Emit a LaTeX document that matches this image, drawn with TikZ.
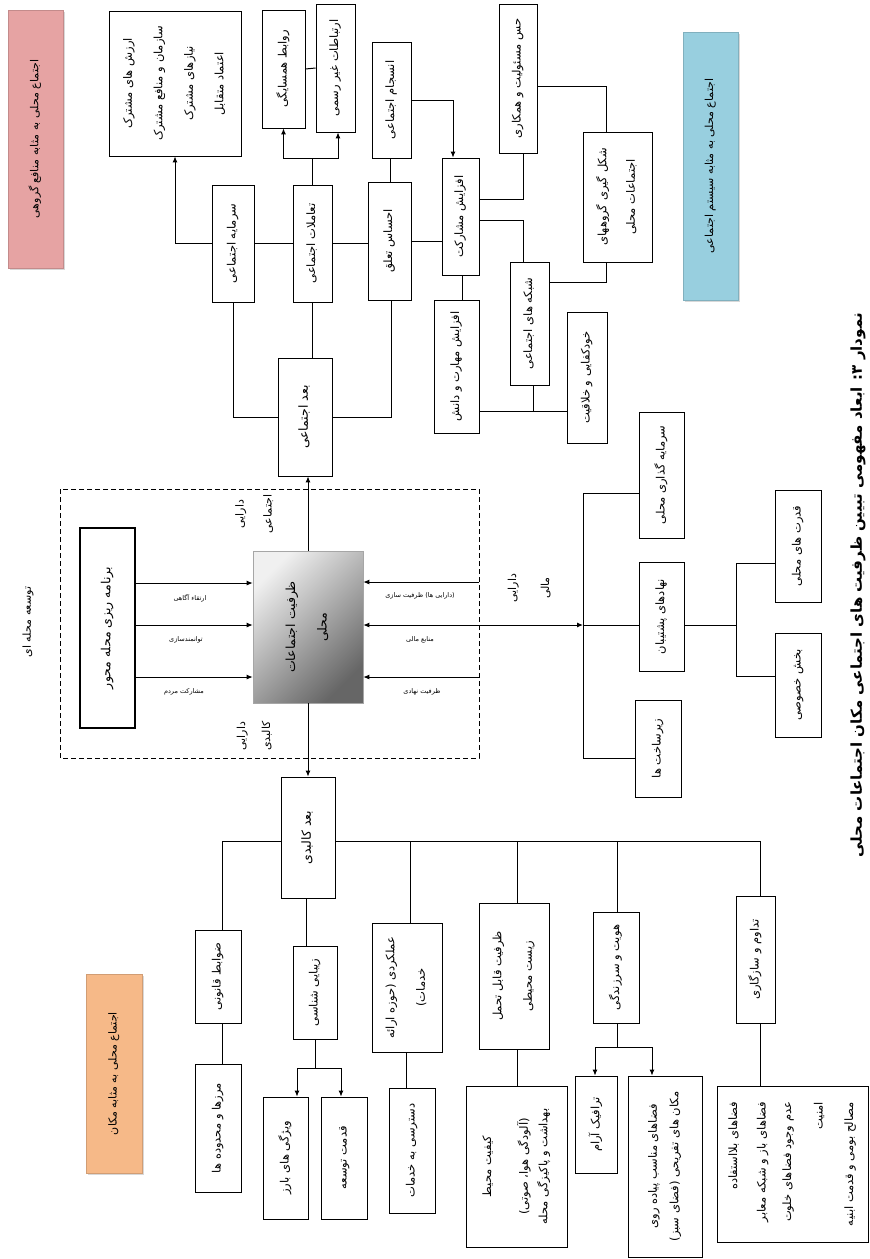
\documentclass[tikz,border=0pt]{standalone}
\usepackage{fontspec}
\usepackage{graphicx}
\usetikzlibrary{arrows.meta,calc,shadows}
\TeXXeTstate=1
\newfontfamily\arabicfont[Script=Arabic]{DejaVu Sans}
\newcommand{\fa}[1]{{\arabicfont\beginR #1\endR}}
\newcommand{\vt}[2][c]{\rotatebox{90}{\begin{tabular}{@{}#1@{}}#2\end{tabular}}}
\definecolor{pinkD}{HTML}{E6A3A3}
\definecolor{pinkL}{HTML}{F8D6D6}
\definecolor{blueD}{HTML}{98CFDF}
\definecolor{blueL}{HTML}{D6EDF4}
\definecolor{orD}{HTML}{F6B988}
\definecolor{orL}{HTML}{FDDFC6}
\begin{document}
\begin{tikzpicture}[x=1pt,y=-1pt,
  bx/.style 2 args={draw, line width=0.8pt, fill=white, minimum width=#1pt, minimum height=#2pt, inner sep=0pt, font=\fontsize{11.5}{13.5}\selectfont},
  big/.style={font=\fontsize{12.5}{14.5}\selectfont},
  ln/.style={line width=1pt},
  arr/.style={ln, -{Latex[length=6pt,width=5pt]}},
  arrb/.style={ln, {Latex[length=6pt,width=5pt]}-{Latex[length=6pt,width=5pt]}},
  band/.style 2 args={draw=#1!85!black, line width=0.6pt, left color=#1, middle color=#2, right color=#1, inner sep=0pt, drop shadow={shadow xshift=2pt, shadow yshift=-2pt, opacity=0.3}, font=\fontsize{11}{13}\selectfont},
  lbl/.style={inner sep=1pt, font=\fontsize{11}{13}\selectfont},
  sml/.style={inner sep=0.5pt, font=\fontsize{6.5}{7.5}\selectfont},
  dbox/.style={line width=0.9pt, dash pattern=on 5pt off 3pt}
]
\useasboundingbox (0,0) rectangle (870,1259);
\fill[white] (0,0) rectangle (870,1259);

% ---------- coloured theme bands ----------
\node[band={pinkD}{pinkL}, minimum width=55pt, minimum height=258pt] (T1) at (35.5,139) {\vt{\fa{اجتماع محلی به مثابه منافع گروهی}}};
\node[band={blueD}{blueL}, minimum width=55pt, minimum height=268pt] (T2) at (710.5,166) {\vt{\fa{اجتماع محلی به مثابه سیستم اجتماعی}}};
\node[band={orD}{orL}, minimum width=56pt, minimum height=199pt] (T3) at (114,1073.5) {\vt{\fa{اجتماع محلی به مثابه مکان}}};

% ---------- social dimension ----------
\node[bx={132}{145}] (A1) at (175,83.5) {\vt{\fa{ارزش های مشترک}\\[17pt]\fa{سازمان و منافع مشترک}\\[17pt]\fa{نیازهای مشترک}\\[17pt]\fa{اعتماد متقابل}}};
\node[bx={42}{117}] (A2) at (233,243.5) {\vt{\fa{سرمایه اجتماعی}}};
\node[bx={43}{118}] (A3) at (283.5,69) {\vt{\fa{روابط همسایگی}}};
\node[bx={39}{128}] (A4) at (335.5,68) {\vt{\fa{ارتباطات غیر رسمی}}};
\node[bx={39}{117}] (A5) at (312.5,243.5) {\vt{\fa{تعاملات اجتماعی}}};
\node[bx={39}{116}] (A6) at (391.5,100) {\vt{\fa{انسجام اجتماعی}}};
\node[bx={43}{118}] (A7) at (389.5,241) {\vt{\fa{احساس تعلق}}};
\node[bx={37}{117}] (A8) at (460.5,216.5) {\vt{\fa{افزایش مشارکت}}};
\node[bx={38}{149}] (A9) at (518,78.5) {\vt{\fa{حس مسئولیت و همکاری}}};
\node[bx={39}{123}] (A10) at (529.5,323.5) {\vt{\fa{شبکه های اجتماعی}}};
\node[bx={45}{133}] (A11) at (456.5,366.5) {\vt{\fa{افزایش مهارت و دانش}}};
\node[bx={40}{131}] (A12) at (587,377.5) {\vt{\fa{خودکفایی و خلاقیت}}};
\node[bx={69}{130}] (A13) at (617.5,197) {\vt{\fa{شکل گیری گروههای}\\[15pt]\fa{اجتماعات محلی}}};
\node[bx={54}{118}, big] (B1) at (305,417) {\vt{\fa{بعد اجتماعی}}};

\coordinate (j1) at (312.5,158);
\coordinate (j2) at (533,411);
\draw[arr] (A2.west) -| (A1.south);
\draw[ln] (A2.east) -- (A5.west);
\draw[ln] (A5.east) -- (A5.east -| A7.west);
\draw[ln] (A7.east) -- (A7.east -| A8.west);
\draw[ln] (A2.south) |- (B1.west);
\draw[ln] (A5.south) -- (A5.south |- B1.north);
\draw[ln] (B1.east) -| ([xshift=1.5pt]A7.south);
\draw[ln] (A5.north) -- (j1);
\draw[arr] (j1) -| (A3.south);
\draw[arr] (j1) -| ([xshift=2.5pt]A4.south);
\draw[ln] (A3.east) -- (A4.west);
\draw[ln] ([xshift=1pt]A7.north) -- ([xshift=1pt]A7.north |- A6.south);
\draw[arr] (A6.east) -| ([xshift=-7.5pt]A8.north);
\draw[ln] ([yshift=17.5pt]A8.east) -| ([xshift=5pt]A9.south);
\draw[ln] ([yshift=-3.5pt]A8.east) -| ([xshift=-6.5pt]A10.north);
\draw[ln] ([xshift=1.5pt]A8.south) -- ([xshift=1.5pt]A8.south |- A11.north);
\draw[ln] ([xshift=3.5pt]A10.south) -- (j2);
\draw[ln] (A11.east |- j2) -- (A12.west |- j2);
\draw[ln] ([yshift=-7.5pt]A9.east) -| ([xshift=-11.5pt]A13.north);
\draw[ln] ([xshift=-11.5pt]A13.south) |- ([yshift=41.5pt]A10.east);

% ---------- central part ----------
\draw[dbox] (60,489) rectangle (479,758);
\node[lbl, rotate=90] (dev) at (28,622) {\fa{توسعه محله ای}};
\node[bx={55}{200}, line width=2pt, big] (P) at (107.5,628) {\vt{\fa{برنامه ریزی محله محور}}};
\node[draw=gray!70, line width=0.6pt, minimum width=110pt, minimum height=152pt, inner sep=0pt,
      top color=gray!12, bottom color=gray!80!black, shading angle=45, big] (C) at (308,627) {\vt{\fa{ظرفیت اجتماعات}\\[17pt]\fa{محلی}}};

\coordinate (pa1) at ([yshift=45pt]P.east);
\coordinate (pa2) at ([yshift=3pt]P.east);
\coordinate (pa3) at ([yshift=-49pt]P.east);
\draw[arr] (pa1) -- (pa1 -| C.west);
\draw[arr] (pa2) -- (pa2 -| C.west);
\draw[arr] (pa3) -- (pa3 -| C.west);
\node[sml] (l1) at (190,598) {\fa{ارتقاء آگاهی}};
\node[sml] (l2) at (186,640) {\fa{توانمندسازی}};
\node[sml] (l3) at (184,692) {\fa{مشارکت مردم}};

\coordinate (r1) at (479,582);
\coordinate (r3) at (479,677);
\coordinate (F) at (583,625);
\draw[arr] (r1) -- (r1 -| C.east);
\draw[arr] (r3) -- (r3 -| C.east);
\draw[arrb] (C.east |- F) -- (F);
\node[sml] (l4) at (420,596) {\fa{(دارایی ها) ظرفیت سازی}};
\node[sml] (l5) at (420,640) {\fa{منابع مالی}};
\node[sml] (l6) at (422,692) {\fa{ظرفیت نهادی}};

\node[lbl, fill=white, inner sep=3pt] (D1) at (255,514) {\vt{\fa{دارایی}\\[15pt]\fa{اجتماعی}}};
\node[lbl, fill=white, inner sep=3pt] (D2) at (255,736) {\vt{\fa{دارایی}\\[12pt]\fa{کالبدی}}};
\node[lbl, fill=white, inner sep=1pt] (D3) at (530,588) {\vt{\fa{دارایی}\\[20pt]\fa{مالی}}};

\draw[arr] (C.north) -- (C.north |- B1.south);

% ---------- financial ----------
\node[bx={45}{126}] (S1) at (661.5,475) {\vt{\fa{سرمایه گذاری محلی}}};
\node[bx={45}{109}] (S2) at (661.5,616.5) {\vt{\fa{نهادهای پشتیبان}}};
\node[bx={46}{97}] (S3) at (658,748.5) {\vt{\fa{زیرساخت ها}}};
\node[bx={46}{112}] (S4) at (798,546) {\vt{\fa{قدرت های محلی}}};
\node[bx={46}{104}] (S5) at (798,685) {\vt{\fa{بخش خصوصی}}};
\coordinate (fb1) at (583,493);
\coordinate (fb3) at (583,758);
\coordinate (j3) at (736,563);
\coordinate (j4) at (736,676);
\draw[ln] (fb1) -- (fb3);
\draw[ln] (fb1) -- (fb1 -| S1.west);
\draw[ln] (F) -- (F -| S2.west);
\draw[ln] (fb3) -- (fb3 -| S3.west);
\draw[ln] (S2.east |- F) -- (F -| j3);
\draw[ln] (j3) -- (j4);
\draw[ln] (j3) -- (j3 -| S4.west);
\draw[ln] (j4) -- (j4 -| S5.west);

% ---------- physical dimension ----------
\node[bx={54}{121}, big] (K) at (308,837.5) {\vt{\fa{بعد کالبدی}}};
\draw[arr] (C.south) -- (C.south |- K.north);
\node[bx={46}{93}] (Q1) at (218,976.5) {\vt{\fa{ضوابط قانونی}}};
\node[bx={44}{93}] (Q2) at (315,992.5) {\vt{\fa{زیبایی شناسی}}};
\node[bx={70}{129}] (Q3) at (407,987.5) {\vt{\fa{عملکردی (حوزه ارائه}\\[17pt]\fa{خدمات)}}};
\node[bx={70}{146}] (Q4) at (514,976) {\vt{\fa{ظرفیت قابل تحمل}\\[17pt]\fa{زیست محیطی}}};
\node[bx={46}{111}] (Q5) at (616,967.5) {\vt{\fa{هویت و سرزندگی}}};
\node[bx={39}{127}] (Q6) at (755.5,959.5) {\vt{\fa{تداوم و سازگاری}}};
\node[bx={46}{128}] (R1) at (218,1128) {\vt{\fa{مرزها و محدوده ها}}};
\node[bx={45}{122}] (R2) at (285.5,1158) {\vt{\fa{ویژگی های بارز}}};
\node[bx={46}{122}] (R3) at (344,1158) {\vt{\fa{قدمت توسعه}}};
\node[bx={46}{125}] (R4) at (412,1150.5) {\vt{\fa{دسترسی به خدمات}}};
\node[bx={101}{161}] (R5) at (516.5,1166.5) {\vt{\fa{کیفیت محیط}\\[22pt]\fa{(آلودگی هوا، صوتی)}\\[5pt]\fa{بهداشت و پاکیزگی محله}}};
\node[bx={42}{97}] (R6) at (596,1124.5) {\vt{\fa{ترافیک آرام}}};
\node[bx={74}{181}] (R7) at (665,1166.5) {\vt{\fa{فضاهای مناسب پیاده روی}\\[8pt]\fa{مکان های تفریحی (فضای سبز)}}};
\node[bx={151}{156}] (R8) at (792.5,1164) {\vt[r]{\fa{فضاهای بلااستفاده}\\[15pt]\fa{فضاهای باز و شبکه معابر}\\[12pt]\fa{عدم وجود فضاهای خلوت}\\[18pt]\fa{امنیت}\\[17pt]\fa{مصالح بومی و قدمت ابنیه}}};

\coordinate (kb0) at (222,841);
\coordinate (kb5) at (760,841);
\draw[ln] (kb0) -- (kb0 -| K.west);
\draw[ln] (kb0 -| K.east) -- (kb5);
\draw[ln] (kb0) -- (kb0 |- Q1.north);
\draw[ln] ([xshift=3pt]Q3.north |- kb0) -- ([xshift=3pt]Q3.north);
\draw[ln] ([xshift=3pt]Q4.north |- kb0) -- ([xshift=3pt]Q4.north);
\draw[ln] ([xshift=1pt]Q5.north |- kb0) -- ([xshift=1pt]Q5.north);
\draw[ln] (kb5) -- (kb5 |- Q6.north);
\draw[ln] ([xshift=-2pt]K.south) -- ([xshift=-2pt]K.south |- Q2.north);
\draw[ln] ([xshift=4pt]Q1.south) -- ([xshift=4pt]Q1.south |- R1.north);
\coordinate (j5) at (315,1068);
\draw[ln] (Q2.south) -- (j5);
\draw[arr] (j5) -| ([xshift=11.5pt]R2.north);
\draw[arr] (j5) -| ([xshift=-3pt]R3.north);
\draw[ln] ([xshift=-1pt]Q3.south) -- ([xshift=-1pt]Q3.south |- R4.north);
\draw[ln] ([xshift=3pt]Q4.south) -- ([xshift=3pt]Q4.south |- R5.north);
\coordinate (j6) at (617,1047);
\draw[ln] ([xshift=1pt]Q5.south) -- (j6);
\draw[arr] (j6) -| ([xshift=-1pt]R6.north);
\draw[arr] (j6) -| ([xshift=-13pt]R7.north);
\draw[ln] ([xshift=4.5pt]Q6.south) -- ([xshift=4.5pt]Q6.south |- R8.north);

% ---------- caption ----------
\node[rotate=90, anchor=east, inner sep=0pt, font=\bfseries\fontsize{15}{17}\selectfont] (cap) at (858,313) {\fa{نمودار ۳: ابعاد مفهومی تبیین ظرفیت های اجتماعی مکان اجتماعات محلی}};
\end{tikzpicture}
\end{document}
